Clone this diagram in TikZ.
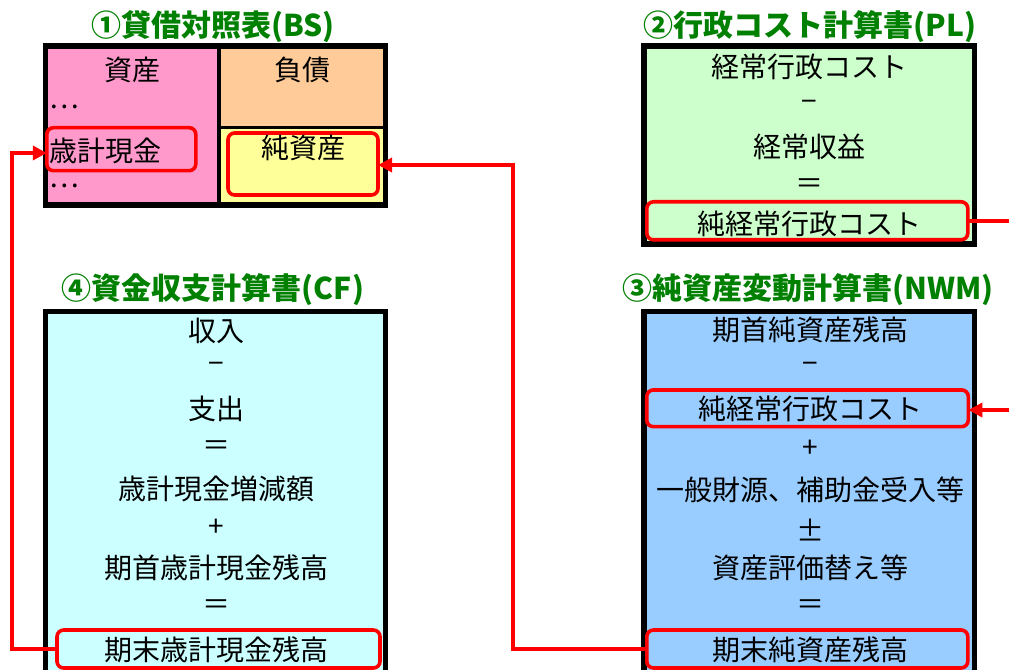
\documentclass[tikz,border=0pt]{standalone}
\usepackage{fontspec}
\setmainfont{Noto Sans CJK JP}
\usetikzlibrary{arrows.meta}
\definecolor{bspink}{RGB}{255,153,204}
\definecolor{bsorange}{RGB}{255,204,153}
\definecolor{bsyellow}{RGB}{255,255,153}
\definecolor{plgreen}{RGB}{204,255,204}
\definecolor{cfcyan}{RGB}{204,255,255}
\definecolor{nwmblue}{RGB}{153,204,255}
\definecolor{ttlgreen}{RGB}{0,128,0}
\definecolor{lnred}{RGB}{255,0,0}
\begin{document}
\begin{tikzpicture}[x=0.75pt,y=-0.75pt,
  ttl/.style={font=\fontsize{22.5pt}{26pt}\selectfont\bfseries, text=ttlgreen, inner sep=0pt},
  txt/.style={font=\fontsize{21pt}{25pt}\selectfont, inner sep=0pt},
  frame/.style={draw=black, line width=3.9pt},
  redbox/.style={rectangle, draw=lnred, line width=2.7pt, rounded corners=5pt, inner sep=0pt, outer sep=0pt},
  conn/.style={draw=lnred, line width=2.7pt, line join=miter},
  tipend/.style={-{Triangle[length=10.5pt,width=10.5pt]}}
]
\clip (0,0) rectangle (1009,670);
\fill[white] (0,0) rectangle (1009,670);

% ---------- (1) BS ----------
\node[ttl] (tBS) at (213,27) {①貸借対照表(BS)};
\fill[bspink] (45.5,46) rectangle (219,205);
\fill[bsorange] (219,46) rectangle (385.5,127.5);
\fill[bsyellow] (219,127.5) rectangle (385.5,205);
\draw[line width=2.6pt] (219,46) -- (219,205) (219,127.5) -- (385.5,127.5);
\draw[frame] (45.5,46) rectangle (385.5,205);
\node[redbox, minimum width=149*0.75pt, minimum height=43*0.75pt] (cashBS) at (121.3,149.2) {};
\node[redbox, minimum width=150*0.75pt, minimum height=62*0.75pt] (netBS) at (303,164) {};
\node[txt] (bsA) at (132,70) {資産};
\node[txt] (bsL) at (302,70) {負債};
\node[txt, anchor=west] (bsD1) at (49,107) {…};
\node[txt, anchor=west] (bsCash) at (49,151) {歳計現金};
\node[txt, anchor=west] (bsD2) at (49,186) {…};
\node[txt] (bsNet) at (303,148) {純資産};

% ---------- (2) PL ----------
\node[ttl] (tPL) at (810,27) {②行政コスト計算書(PL)};
\draw[frame, fill=plgreen] (644,46) rectangle (974.5,244);
\node[redbox, minimum width=321*0.75pt, minimum height=38*0.75pt] (netcostPL) at (807.3,220.8) {};
\node[txt] (pl1) at (809,67) {経常行政コスト};
\node[txt] (pl2) at (809,106) {−};
\node[txt] (pl3) at (809,147) {経常収益};
\node[txt] (pl4) at (809,186) {＝};
\node[txt] (pl5) at (809,223.5) {純経常行政コスト};

% ---------- (4) CF ----------
\node[ttl] (tCF) at (213,290) {④資金収支計算書(CF)};
\draw[frame, fill=cfcyan] (45.5,311.5) rectangle (385.5,700);
\node[redbox, minimum width=323*0.75pt, minimum height=38*0.75pt] (endCF) at (218.5,649) {};
\node[txt] (cf1) at (216,331) {収入};
\node[txt] (cf2) at (216,368) {−};
\node[txt] (cf3) at (216,409) {支出};
\node[txt] (cf4) at (216,448) {＝};
\node[txt] (cf5) at (216,488.5) {歳計現金増減額};
\node[txt] (cf6) at (216,528) {+};
\node[txt] (cf7) at (216,567.5) {期首歳計現金残高};
\node[txt] (cf8) at (216,607) {＝};
\node[txt] (cf9) at (216,650) {期末歳計現金残高};

% ---------- (3) NWM ----------
\node[ttl] (tNWM) at (808,290) {③純資産変動計算書(NWM)};
\draw[frame, fill=nwmblue] (644,311.5) rectangle (974.5,700);
\node[redbox, minimum width=321.6*0.75pt, minimum height=36.7*0.75pt] (netcostNWM) at (807.5,408.3) {};
\node[redbox, minimum width=321*0.75pt, minimum height=38*0.75pt] (endNWM) at (807.3,649) {};
\node[txt] (nw1) at (810,330) {期首純資産残高};
\node[txt] (nw2) at (810,368) {−};
\node[txt] (nw3) at (810,408.5) {純経常行政コスト};
\node[txt] (nw4) at (810,449) {+};
\node[txt] (nw5) at (810,490) {一般財源、補助金受入等};
\node[txt] (nw6) at (810,530) {±};
\node[txt] (nw7) at (810,567.5) {資産評価替え等};
\node[txt] (nw8) at (810,607) {＝};
\node[txt] (nw9) at (810,650) {期末純資産残高};

% ---------- connectors ----------
\coordinate (cL) at (12,153);
\draw[conn, tipend] (endCF.west) -| (cL) -- (cashBS.west |- cL);
\coordinate (cM) at (513,165);
\draw[conn, tipend] (endNWM.west) -| (cM) -- (netBS.east |- cM);
\coordinate (cR) at (1030,410);
\draw[conn, tipend] (netcostPL.east) -| (cR) -- (netcostNWM.east |- cR);
\end{tikzpicture}
\end{document}
